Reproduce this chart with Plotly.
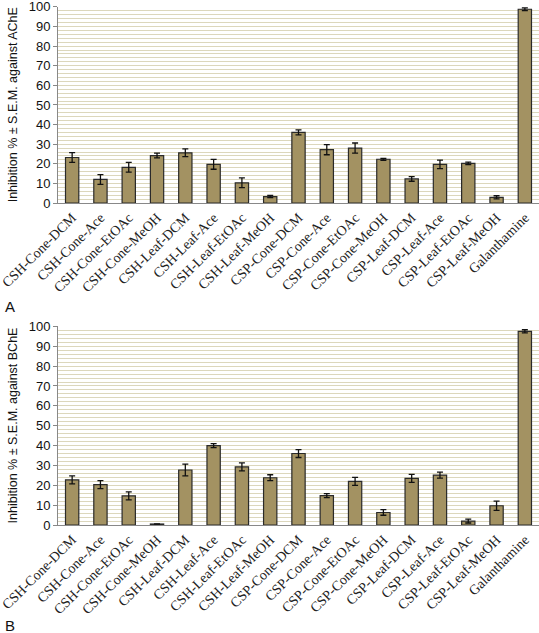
import plotly.graph_objects as go

categories = ["CSH-Cone-DCM", "CSH-Cone-Ace", "CSH-Cone-EtOAc", "CSH-Cone-MeOH",
              "CSH-Leaf-DCM", "CSH-Leaf-Ace", "CSH-Leaf-EtOAc", "CSH-Leaf-MeOH",
              "CSP-Cone-DCM", "CSP-Cone-Ace", "CSP-Cone-EtOAc", "CSP-Cone-MeOH",
              "CSP-Leaf-DCM", "CSP-Leaf-Ace", "CSP-Leaf-EtOAc", "CSP-Leaf-MeOH",
              "Galanthamine"]

ache_values = [23.2, 12.0, 18.2, 24.2, 25.6, 19.7, 10.3, 3.3,
               36.0, 27.2, 28.0, 22.3, 12.3, 19.7, 20.2, 2.9, 98.8]
ache_sem = [2.5, 2.5, 2.5, 1.2, 2.0, 2.5, 2.5, 0.6,
            1.3, 2.6, 2.6, 0.5, 1.2, 2.2, 0.6, 0.8, 0.7]

bche_values = [22.7, 20.3, 14.7, 0.5, 27.7, 40.0, 29.3, 23.8,
               36.0, 14.8, 22.0, 6.3, 23.5, 25.1, 2.0, 9.7, 97.5]
bche_sem = [2.0, 2.0, 2.0, 0.0, 3.0, 1.0, 2.0, 1.5,
            2.0, 1.0, 2.0, 1.4, 2.0, 1.5, 1.0, 2.3, 0.8]

y_ticks = [0, 10, 20, 30, 40, 50, 60, 70, 80, 90, 100]

W, H = 539, 633
bar_color = "#a39262"
grid_color = "#dcd7bc"

fig = go.Figure()


def add_panel(values, sem, xa, ya):
    fig.add_trace(go.Bar(
        x=categories, y=values, xaxis=xa, yaxis=ya,
        marker=dict(color=bar_color, line=dict(color="#2a2a2a", width=1.2)),
        error_y=dict(type="data", array=sem, visible=True,
                     color="#111111", thickness=1.3, width=3),
        showlegend=False,
    ))


add_panel(ache_values, ache_sem, "x", "y")
add_panel(bche_values, bche_sem, "x2", "y2")

xdom = [58 / W, 539 / W]
xcommon = dict(
    domain=xdom, tickangle=-45, showgrid=False,
    showline=True, linecolor="#888888", linewidth=1,
    ticks="", tickfont=dict(family="Liberation Serif", size=14, color="#222222"),
    automargin=False,
)
ycommon = dict(
    range=[0, 100.2], tickvals=y_ticks, showgrid=True, gridcolor=grid_color, gridwidth=1.2,
    showline=True, linecolor="#888888", linewidth=1,
    ticks="outside", ticklen=4, tickcolor="#888888",
    tickfont=dict(family="Arial", size=13, color="#111111"),
    ticklabeloverflow="allow",
    minor=dict(dtick=2, showgrid=True, gridcolor=grid_color, gridwidth=1.2),
    zeroline=False, automargin=False,
    title_font=dict(family="Arial", size=12.5, color="#111111"),
    title_standoff=8,
)

fig.update_layout(
    width=W, height=H,
    margin=dict(l=0, r=0, t=0, b=0),
    paper_bgcolor="white", plot_bgcolor="white",
    bargap=0.53,
    xaxis=dict(**xcommon, anchor="y"),
    yaxis=dict(**ycommon, domain=[1 - 203 / H, 1 - 6.5 / H], anchor="x",
               title_text="Inhibition % ± S.E.M. against AChE"),
    xaxis2=dict(**xcommon, anchor="y2"),
    yaxis2=dict(**ycommon, domain=[1 - 525 / H, 1 - 326 / H], anchor="x2",
                title_text="Inhibition % ± S.E.M. against BChE"),
    annotations=[
        dict(text="A", x=3 / W, y=1 - 307 / H, xref="paper", yref="paper",
             showarrow=False, xanchor="left", yanchor="middle",
             font=dict(family="Arial", size=15, color="#111111")),
        dict(text="B", x=3 / W, y=1 - 625 / H, xref="paper", yref="paper",
             showarrow=False, xanchor="left", yanchor="middle",
             font=dict(family="Arial", size=15, color="#111111")),
    ],
)

fig.write_html("out.html", config={"displayModeBar": False},
               post_script="document.body.style.margin='0';document.body.style.overflow='hidden';")
